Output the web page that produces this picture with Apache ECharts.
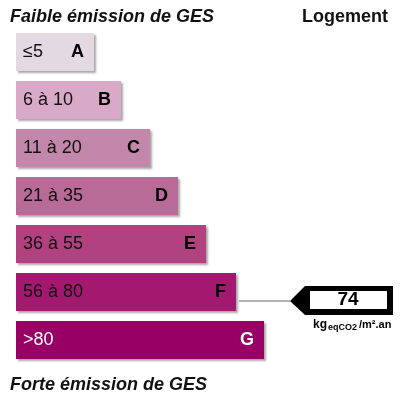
<!DOCTYPE html>
<html><head><meta charset="utf-8">
<script src="https://cdn.jsdelivr.net/npm/echarts@6/dist/echarts.min.js"></script>
<style>html,body{margin:0;padding:0;background:#fff}#c{width:400px;height:400px}</style>
</head><body><div id="c"></div>
<script>
const classes = ['A', 'B', 'C', 'D', 'E', 'F', 'G'];
const rangeLabels = ['≤5', '6 à 10', '11 à 20', '21 à 35', '36 à 55', '56 à 80', '>80'];
const upperBounds = [5, 10, 20, 35, 55, 80, Infinity];
const barLengths = [78, 105, 134, 162, 190, 220, 248];
const emissionValue = 74;
const unitMain = 'kg', unitSub = 'eqCO2', unitTail = '/m².an';
const topTitle = 'Faible émission de GES';
const bottomTitle = 'Forte émission de GES';
const sideTitle = 'Logement';

const colors = ['#e3d9e3', '#d8aac8', '#c287ab', '#b76b96', '#b2417f', '#a3196f', '#990065'];
const FONT = 'Liberation Sans, Arial, sans-serif';

const chart = echarts.init(document.getElementById('c'), null, {renderer: 'canvas'});
const idx = upperBounds.findIndex(b => emissionValue <= b);
const shadow = {shadowColor: 'rgba(0,0,0,0.35)', shadowBlur: 2, shadowOffsetX: 1.5, shadowOffsetY: 1.5};

chart.setOption({
  animation: false,
  title: [
    {text: topTitle, left: 10, top: 8, padding: 0, textStyle: {fontFamily: FONT, fontSize: 18, fontStyle: 'italic', fontWeight: 'bold', color: '#111'}},
    {text: sideTitle, right: 12, top: 8, padding: 0, textStyle: {fontFamily: FONT, fontSize: 18, fontWeight: 'bold', color: '#111'}},
    {text: bottomTitle, left: 10, top: 376, padding: 0, textStyle: {fontFamily: FONT, fontSize: 18, fontStyle: 'italic', fontWeight: 'bold', color: '#111'}}
  ],
  grid: {left: 16, right: 0, top: 28, height: 336},
  xAxis: {type: 'value', min: 0, max: 384, show: false},
  yAxis: {type: 'category', data: classes, inverse: true, show: false},
  series: [
    {
      type: 'bar', barWidth: 38, silent: true,
      data: barLengths.map((v, i) => ({
        value: v,
        itemStyle: Object.assign({color: colors[i]}, shadow),
        label: i === 6 ? {color: '#fff'} : {}
      })),
      label: {
        show: true, position: 'insideLeft', distance: 7,
        fontFamily: FONT, fontSize: 18,
        formatter: p => rangeLabels[p.dataIndex],
        color: '#111'
      }
    },
    {
      type: 'bar', barWidth: 38, barGap: '-100%', silent: true,
      data: barLengths.map((v, i) => ({value: v, label: i === 6 ? {color: '#fff'} : {}})),
      itemStyle: {color: 'rgba(0,0,0,0)'},
      label: {
        show: true, position: 'insideRight', distance: 10,
        fontFamily: FONT, fontSize: 18, fontWeight: 900,
        formatter: p => classes[p.dataIndex],
        color: '#000'
      }
    }
  ]
});

const yc = chart.convertToPixel({yAxisIndex: 0}, classes[idx]) + 9;
const xBar = chart.convertToPixel({xAxisIndex: 0}, barLengths[idx]);
const tipX = 290, rightX = 393;
chart.setOption({
  graphic: [
    {type: 'line', shape: {x1: xBar + 3, y1: yc, x2: tipX, y2: yc}, style: {stroke: '#999', lineWidth: 1.5}},
    {type: 'polygon', shape: {points: [[tipX, yc], [tipX + 15, yc - 15], [rightX, yc - 15], [rightX, yc + 14], [tipX + 15, yc + 14]]}, style: {fill: '#000'}},
    {type: 'rect', shape: {x: 310, y: yc - 10, width: 77, height: 18}, style: {fill: '#fff'}},
    {type: 'text', x: 348, y: yc - 1, style: {text: String(emissionValue), font: 'bold 19px ' + FONT, fill: '#000', align: 'center', verticalAlign: 'middle'}},
    {type: 'text', x: 313, y: yc + 24, style: {
      text: '{a|' + unitMain + '}{b|' + unitSub + '}{c|' + unitTail + '}',
      verticalAlign: 'middle',
      rich: {
        a: {fontFamily: FONT, fontSize: 12, fontWeight: 'bold', fill: '#000'},
        b: {fontFamily: FONT, fontSize: 9, fontWeight: 'bold', fill: '#000', padding: [5, 2, 0, 1]},
        c: {fontFamily: FONT, fontSize: 11, fontWeight: 'bold', fill: '#000'}
      }
    }}
  ]
});
</script></body></html>
